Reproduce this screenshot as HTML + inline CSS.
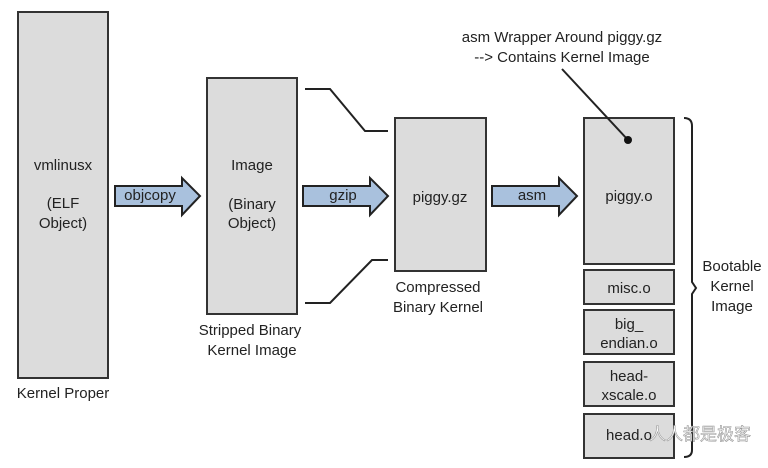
<!DOCTYPE html>
<html><head><style>
html,body{margin:0;padding:0;background:#fff;}
svg text{font-family:"Liberation Sans","Noto Sans CJK SC",sans-serif;font-size:15px;fill:#222;text-anchor:middle;}
</style></head><body>
<svg width="768" height="463" viewBox="0 0 768 463" xmlns="http://www.w3.org/2000/svg">
<g fill="#dcdcdc" stroke="#333" stroke-width="2">
<rect x="18" y="12" width="90" height="366"/>
<rect x="207" y="78" width="90" height="236"/>
<rect x="395" y="118" width="91" height="153"/>
<rect x="584" y="118" width="90" height="146"/>
<rect x="584" y="270" width="90" height="34"/>
<rect x="584" y="310" width="90" height="44"/>
<rect x="584" y="362" width="90" height="44"/>
<rect x="584" y="414" width="90" height="44"/>
</g>
<g fill="#a9c1dd" stroke="#222" stroke-width="2">
<path d="M115,186 H182 V178 L200,196 L182,215 V206 H115 Z"/>
<path d="M303,186 H370 V178 L388,196 L370,215 V206 H303 Z"/>
<path d="M492,186 H559 V178 L577,196 L559,215 V206 H492 Z"/>
</g>
<g fill="none" stroke="#222" stroke-width="2">
<path d="M305,89 H330 L365,131 H388"/>
<path d="M305,303 H330 L372,260 H388"/>
<path d="M562,69 L628,140"/>
<path d="M684,118 Q692,118 692,126 V282 L696,288 L692,294 V450 Q692,457 684,457"/>
</g>
<circle cx="628" cy="140" r="4" fill="#111"/>
<text x="63" y="170">vmlinusx</text>
<text x="63" y="208">(ELF</text>
<text x="63" y="228">Object)</text>
<text x="63" y="398">Kernel Proper</text>
<text x="150" y="200">objcopy</text>
<text x="252" y="170">Image</text>
<text x="252" y="209">(Binary</text>
<text x="252" y="228">Object)</text>
<text x="250" y="335">Stripped Binary</text>
<text x="252" y="355">Kernel Image</text>
<text x="343" y="200">gzip</text>
<text x="440" y="202">piggy.gz</text>
<text x="438" y="292">Compressed</text>
<text x="438" y="312">Binary Kernel</text>
<text x="532" y="200">asm</text>
<text x="629" y="201">piggy.o</text>
<text x="562" y="42">asm Wrapper Around piggy.gz</text>
<text x="562" y="62">--&gt; Contains Kernel Image</text>
<text x="629" y="293">misc.o</text>
<text x="629" y="329">big_</text>
<text x="629" y="348">endian.o</text>
<text x="629" y="381">head-</text>
<text x="629" y="400">xscale.o</text>
<text x="629" y="440">head.o</text>
<text x="732" y="271">Bootable</text>
<text x="732" y="291">Kernel</text>
<text x="732" y="311">Image</text>
<text x="700" y="440" style="font-size:17px;fill:#fff;stroke:#999;stroke-width:0.6">人人都是极客</text>
</svg>
</body></html>
